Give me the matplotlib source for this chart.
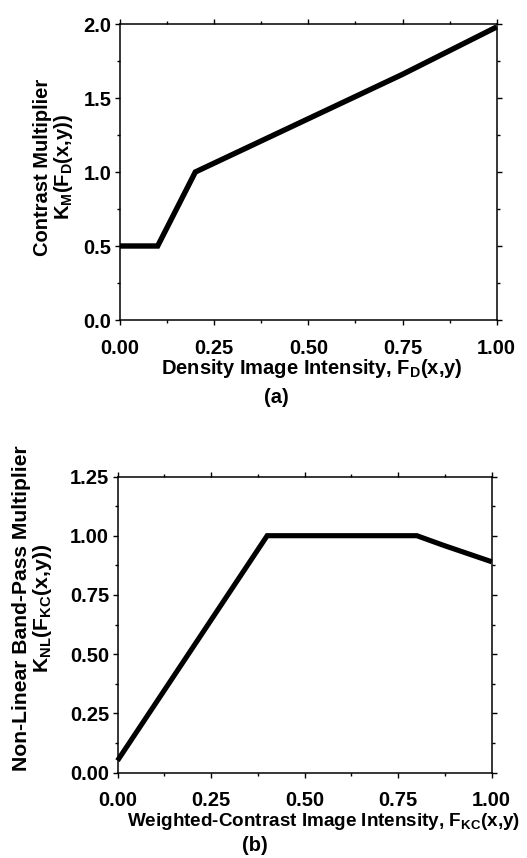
import numpy as np
import matplotlib
matplotlib.use("Agg")
import matplotlib.pyplot as plt
from matplotlib.ticker import MultipleLocator, FormatStrFormatter

# Panel (a): contrast multiplier vs density image intensity
density_x = [0.0, 0.1, 0.2, 0.5, 0.75, 1.0]
multiplier_y = [0.5, 0.5, 1.0, 1.36, 1.66, 1.98]

# Panel (b): non-linear band-pass multiplier vs weighted-contrast intensity
contrast_x = [0.0, 0.4, 0.8, 0.87, 1.0]
bandpass_y = [0.05, 1.0, 1.0, 0.96, 0.89]

plt.rcParams['font.family'] = ['Liberation Sans', 'DejaVu Sans']
plt.rcParams['font.weight'] = 'bold'
plt.rcParams['mathtext.fontset'] = 'custom'
plt.rcParams['mathtext.rm'] = 'Liberation Sans:bold'
plt.rcParams['mathtext.it'] = 'Liberation Sans:bold'
plt.rcParams['mathtext.bf'] = 'Liberation Sans:bold'

W, H = 527, 858
FS = 14.5
fig = plt.figure(figsize=(W / 100, H / 100), dpi=100)


def px_box(left, top, right, bottom):
    return [left / W, 1 - bottom / H, (right - left) / W, (bottom - top) / H]


def style_axes(ax, xmaj, ymaj, yfmt):
    ax.xaxis.set_major_locator(MultipleLocator(xmaj))
    ax.xaxis.set_minor_locator(MultipleLocator(xmaj / 2))
    ax.yaxis.set_major_locator(MultipleLocator(ymaj))
    ax.yaxis.set_minor_locator(MultipleLocator(ymaj / 2))
    ax.xaxis.set_major_formatter(FormatStrFormatter('%.2f'))
    ax.yaxis.set_major_formatter(FormatStrFormatter(yfmt))
    ax.tick_params(which='both', direction='out', top=True, right=True,
                   width=1.0, labelsize=FS)
    ax.tick_params(which='major', length=3.6)
    ax.tick_params(which='minor', length=2.2)
    ax.tick_params(axis='x', which='major', pad=10)
    ax.tick_params(axis='y', which='major', pad=2.5)
    for s in ax.spines.values():
        s.set_linewidth(1.1)
    for lab in ax.get_xticklabels() + ax.get_yticklabels():
        lab.set_fontweight('bold')


# ---- (a) ----
ax1 = fig.add_axes(px_box(120, 24, 496.7, 320))
ax1.plot(density_x, multiplier_y, color='black', lw=3.9, solid_capstyle='butt',
         solid_joinstyle='miter', clip_on=False)
ax1.set_xlim(0, 1.0)
ax1.set_ylim(0, 2.0)
style_axes(ax1, 0.25, 0.5, '%.1f')

fig.text(54 / W, 1 - 167 / H, "Contrast Multiplier\nK$_\\mathrm{M}$(F$_\\mathrm{D}$(x,y))",
         rotation=90, ha='center', va='center', multialignment='center',
         fontsize=FS, fontweight='bold', linespacing=1.05)
fig.text(312 / W, 1 - 369 / H, "Density Image Intensity, F$_\\mathrm{D}$(x,y)",
         ha='center', va='center', fontsize=FS, fontweight='bold')
fig.text(276 / W, 1 - 397.5 / H, "(a)", ha='center', va='center',
         fontsize=FS, fontweight='bold')

# ---- (b) ----
ax2 = fig.add_axes(px_box(117.5, 476.5, 491.7, 772.5))
ax2.plot(contrast_x, bandpass_y, color='black', lw=3.7, solid_capstyle='butt',
         solid_joinstyle='miter', clip_on=False)
ax2.set_xlim(0, 1.0)
ax2.set_ylim(0, 1.25)
style_axes(ax2, 0.25, 0.25, '%.2f')

fig.text(33 / W, 1 - 608 / H,
         "Non-Linear Band-Pass Multiplier\nK$_\\mathrm{NL}$(F$_\\mathrm{KC}$(x,y))",
         rotation=90, ha='center', va='center', multialignment='center',
         fontsize=15.2, fontweight='bold', linespacing=1.0)
fig.text(324 / W, 1 - 821 / H,
         "Weighted-Contrast Image Intensity, F$_\\mathrm{KC}$(x,y)",
         ha='center', va='center', fontsize=13.6, fontweight='bold')
fig.text(255 / W, 1 - 845.5 / H, "(b)", ha='center', va='center',
         fontsize=FS, fontweight='bold')

fig.savefig("out.png", dpi=100, facecolor='white')
